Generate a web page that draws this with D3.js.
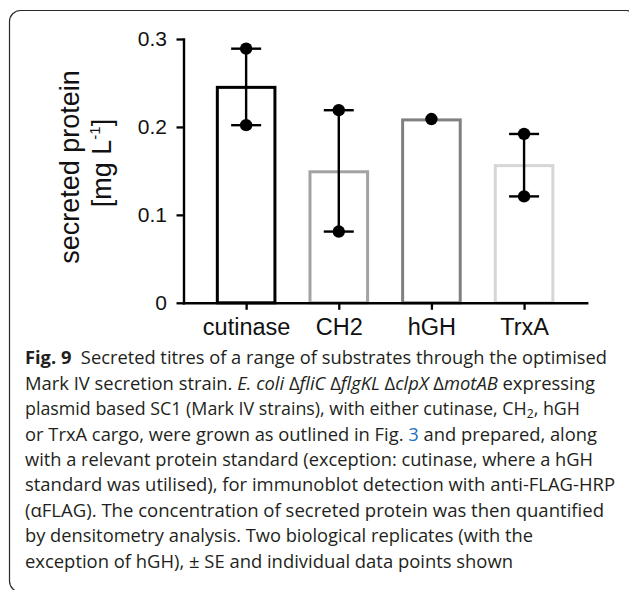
<!DOCTYPE html>
<html>
<head>
<meta charset="utf-8">
<script src="https://cdn.jsdelivr.net/npm/d3@7"></script>
<style>
  html, body { margin: 0; padding: 0; background: #fff; }
  svg { display: block; }
</style>
</head>
<body>
<script>
// ---------------- data ----------------
const categories = ["cutinase", "CH2", "hGH", "TrxA"];
const meanValues = [0.245, 0.149, 0.208, 0.156];
const replicateValues = [[0.289, 0.202], [0.219, 0.081], [0.209], [0.192, 0.121]];
const yTickValues = [0, 0.1, 0.2, 0.3];
const yTickLabels = ["0", "0.1", "0.2", "0.3"];
const yLabelLine1 = "secreted protein";
const captionLines = [
  [{t: "Fig. 9", b: true}, {t: "  Secreted titres of a range of substrates through the optimised"}],
  [{t: "Mark IV secretion strain. "}, {t: "E. coli", i: true}, {t: " Δ"}, {t: "fliC", i: true}, {t: " Δ"}, {t: "flgKL", i: true}, {t: " Δ"}, {t: "clpX", i: true}, {t: " Δ"}, {t: "motAB", i: true}, {t: " expressing"}],
  [{t: "plasmid based SC1 (Mark IV strains), with either cutinase, CH"}, {t: "2", sub: true}, {t: ", hGH"}],
  [{t: "or TrxA cargo, were grown as outlined in Fig. "}, {t: "3", link: true}, {t: " and prepared, along"}],
  [{t: "with a relevant protein standard (exception: cutinase, where a hGH"}],
  [{t: "standard was utilised), for immunoblot detection with anti-FLAG-HRP"}],
  [{t: "(αFLAG). The concentration of secreted protein was then quantified"}],
  [{t: "by densitometry analysis. Two biological replicates (with the"}],
  [{t: "exception of hGH), ± SE and individual data points shown"}]
];
const captionLineEnds = [607, 595, 580, 597, 593, 615, 604, 533, 513];

// ---------------- styles ----------------
const barColors = ["#000000", "#a3a3a3", "#808080", "#d6d6d6"];
const axisFont = "'Liberation Sans', Arial, Helvetica, sans-serif";
const captionFont = "'Open Sans', 'Noto Sans', sans-serif";

const W = 629, H = 590;
const svg = d3.select("body").append("svg").attr("width", W).attr("height", H);

// frame
svg.append("rect")
  .attr("x", 9.5).attr("y", 10.5)
  .attr("width", 628).attr("height", 581.5)
  .attr("rx", 11).attr("ry", 11)
  .attr("fill", "none").attr("stroke", "#2a2a2a").attr("stroke-width", 1.2);

// scales
const x = d3.scalePoint().domain(categories).range([183.5, 586.7]).padding(0.676);
const y = d3.scaleLinear().domain([0, 0.3]).range([302.8, 39]);
const barW = 57.6;

const data = categories.map((c, i) => ({
  cat: c, mean: meanValues[i], reps: replicateValues[i], color: barColors[i]
}));

// bars
svg.append("g").selectAll("rect").data(data).join("rect")
  .attr("x", d => x(d.cat) - barW / 2)
  .attr("y", d => y(d.mean))
  .attr("width", barW)
  .attr("height", d => y(0) - y(d.mean))
  .attr("fill", "#fff")
  .attr("stroke", d => d.color)
  .attr("stroke-width", 3);

// axes
const yAxis = d3.axisLeft(y).tickValues(yTickValues)
  .tickFormat((d, i) => yTickLabels[i]).tickSize(7).tickSizeOuter(0).tickPadding(9.5);
const gy = svg.append("g").attr("transform", `translate(${183.5},0)`).call(yAxis);
gy.selectAll("text").attr("font-family", axisFont).attr("font-size", 21).attr("fill", "#111");

const xAxis = d3.axisBottom(x).tickSize(7).tickSizeOuter(0).tickPadding(8.3);
const gx = svg.append("g").attr("transform", `translate(0,${y(0)})`).call(xAxis);
gx.selectAll("text").attr("font-family", axisFont).attr("font-size", 23.5).attr("fill", "#111");

[gy, gx].forEach(g => {
  g.selectAll(".domain").attr("stroke", "#000").attr("stroke-width", 2.4).attr("stroke-linecap", "square");
  g.selectAll(".tick line").attr("stroke", "#000").attr("stroke-width", 2.3);
});

// error bars (mean ± SE of replicates)
const capW = 30;
const eb = svg.append("g");
data.filter(d => d.reps.length > 1).forEach(d => {
  const m = d3.mean(d.reps);
  const se = d3.deviation(d.reps) / Math.sqrt(d.reps.length);
  const cx = x(d.cat);
  eb.append("line").attr("x1", cx).attr("x2", cx)
    .attr("y1", y(m + se)).attr("y2", y(m - se))
    .attr("stroke", "#000").attr("stroke-width", 2.4);
  [m + se, m - se].forEach(v => {
    eb.append("line").attr("x1", cx - capW / 2).attr("x2", cx + capW / 2)
      .attr("y1", y(v)).attr("y2", y(v))
      .attr("stroke", "#000").attr("stroke-width", 2.4);
  });
});

// individual points
const pts = data.flatMap(d => d.reps.map(v => ({cat: d.cat, v})));
svg.append("g").selectAll("circle").data(pts).join("circle")
  .attr("cx", d => x(d.cat)).attr("cy", d => y(d.v)).attr("r", 6.2)
  .attr("fill", "#000");

// y label
const yl = svg.append("g").attr("transform", "rotate(-90)")
  .attr("font-family", axisFont).attr("font-size", 27).attr("fill", "#111")
  .attr("text-anchor", "middle");
yl.append("text").attr("x", -167).attr("y", 78.5).text(yLabelLine1);
const t2 = yl.append("text").attr("x", -163).attr("y", 111);
t2.append("tspan").text("[mg L");
t2.append("tspan").attr("font-size", 15).attr("dy", -11).text("-1");
t2.append("tspan").attr("dy", 11).text("]");

// caption
const cap = svg.append("g").attr("font-family", captionFont).attr("font-size", 17.5).attr("fill", "#231f20");
captionLines.forEach((segs, i) => {
  const t = cap.append("text")
    .attr("x", 25).attr("y", 364.3 + 25.4 * i)
    .attr("textLength", captionLineEnds[i] - 25)
    .attr("lengthAdjust", "spacingAndGlyphs")
    .attr("xml:space", "preserve")
    .style("white-space", "pre");
  segs.forEach(s => {
    const sp = t.append("tspan").text(s.t);
    if (s.b) sp.attr("font-weight", "bold");
    if (s.i) sp.attr("font-style", "italic");
    if (s.link) sp.attr("fill", "#1f6fc5");
    if (s.sub) sp.attr("font-size", 12).attr("baseline-shift", "-3");
  });
});
</script>
</body>
</html>
